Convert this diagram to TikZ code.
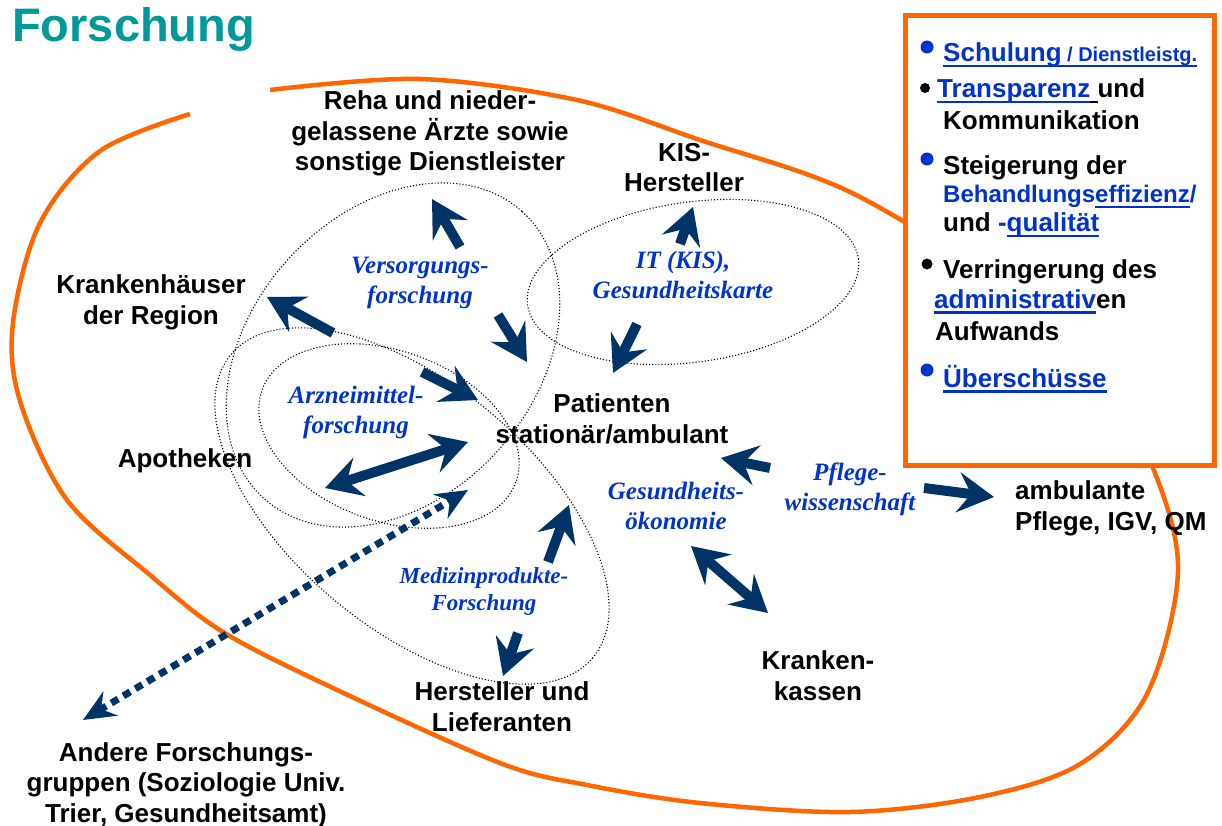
\documentclass[tikz,border=0pt]{standalone}
\usepackage{fontspec}
\setmainfont{Liberation Sans}
\newfontfamily\timesbi{Liberation Serif}
\usepackage{tkz-base}
\usepackage{tkz-euclide}
\usetikzlibrary{arrows.meta}

\definecolor{orng}{RGB}{255,102,0}
\definecolor{navy}{RGB}{0,51,102}
\definecolor{itblue}{RGB}{0,51,204}
\definecolor{tuerkis}{RGB}{0,153,153}

% Unterstrichener Text (Links im Kasten).
\newcommand{\ulk}[1]{\sbox0{#1}\rlap{\rule[-5.5pt]{\wd0}{2.5pt}}\usebox0}

\tikzset{
  etikett/.style={font=\fontsize{26}{30.5}\selectfont\bfseries, align=center, inner sep=0pt, anchor=base},
  forschung/.style={font=\timesbi\bfseries\itshape\fontsize{25}{30}\selectfont, text=itblue, align=center, inner sep=0pt, anchor=base},
  pfeil/.style={draw=navy, line width=10pt, -{Stealth[length=36pt,width=40pt,inset=13pt]}},
  doppelpfeil/.style={draw=navy, line width=10pt, {Stealth[length=36pt,width=40pt,inset=13pt]}-{Stealth[length=36pt,width=40pt,inset=13pt]}},
  punktpfeil/.style={draw=navy, line width=7pt, dash pattern=on 8pt off 6pt, {Stealth[length=32pt,width=28pt,inset=11pt]}-{Stealth[length=32pt,width=28pt,inset=11pt]}},
  kastentext/.style={font=\fontsize{26}{30}\selectfont\bfseries, inner sep=0pt, anchor=base west},
  ellipsenrand/.style={draw=black, line width=1.1pt, dash pattern=on 1.1pt off 2pt}
}

\begin{document}
\begin{tikzpicture}[x=1pt,y=-1pt]
        \useasboundingbox (0,0) rectangle (1222,826);

        % Define los extremos de las flechas.
        \tkzDefPoint(460,247){Ra}  \tkzDefPoint(432,199){Rb}
        \tkzDefPoint(333,333){Ka}  \tkzDefPoint(267,297){Kb}
        \tkzDefPoint(498,315){Pa}  \tkzDefPoint(527,362){Pb}
        \tkzDefPoint(422,372){Aa}  \tkzDefPoint(478,400){Ab}
        \tkzDefPoint(325,488){Da}  \tkzDefPoint(468,442){Db}
        \tkzDefPoint(83,720){Qa}   \tkzDefPoint(468,490){Qb}
        \tkzDefPoint(680,244){Ia}  \tkzDefPoint(693,207){Ib}
        \tkzDefPoint(637,324){Ja}  \tkzDefPoint(613,373){Jb}
        \tkzDefPoint(548,562){Ma}  \tkzDefPoint(569,505){Mb}
        \tkzDefPoint(518,633){Na}  \tkzDefPoint(503,676){Nb}
        \tkzDefPoint(770,468){Ga}  \tkzDefPoint(721,458){Gb}
        \tkzDefPoint(924,488){Ha}  \tkzDefPoint(994,497){Hb}
        \tkzDefPoint(691,546){Ea}  \tkzDefPoint(768,613){Eb}

        % Dibuja la curva naranja.
        \draw[orng, line width=4.5pt] plot[smooth, tension=0.55] coordinates {
          (270,90) (420,79) (577,100) (700,140) (850,192) (1000,285) (1100,375)
          (1153,468) (1178,571) (1147,694) (1080,764) (980,797) (850,812) (700,803)
          (587,785) (500,763) (333,688) (223,632) (150,575) (67,500) (20,401)
          (13,323) (40,223) (100,151) (190,114)};

        % Dibuja el cuadro de objetivos.
        \draw[orng, line width=5pt, fill=white] (905,16) rectangle (1214,465);
        \fill[itblue] (927,47) circle (6.5);
        \fill[black] (925,88) circle (5);
        \fill[itblue] (927,159) circle (6.5);
        \fill[black] (927,264) circle (5.5);
        \fill[itblue] (927,370) circle (6.5);
        \node[kastentext, text=itblue] (z1) at (943,62) {\ulk{Schulung\fontsize{20}{24}\selectfont\ / Dienstleistg.}};
        \node[kastentext] (z2) at (937,98) {{\color{itblue}\ulk{Transparenz}}\ulk{\ }und};
        \node[kastentext] (z3) at (943,130) {Kommunikation};
        \node[kastentext] (z4) at (943,175) {Steigerung der};
        \node[kastentext, text=itblue] (z5) at (943,203) {\fontsize{24}{28}\selectfont Behandlungs\ulk{effizienz}/};
        \node[kastentext] (z6) at (943,232) {und {\color{itblue}-\ulk{qualität}}};
        \node[kastentext] (z7) at (943,278) {Verringerung des};
        \node[kastentext] (z8) at (934,308) {{\color{itblue}\ulk{administrativ}}en};
        \node[kastentext] (z9) at (935,340) {Aufwands};
        \node[kastentext, text=itblue] (z10) at (943,387) {\ulk{Überschüsse}};

        % Dibuja las elipses punteadas.
        \draw[ellipsenrand, rotate around={48:(393,355)}] (393,355) ellipse [x radius=193, y radius=142];
        \draw[ellipsenrand, rotate around={8:(693,282)}] (693,282) ellipse [x radius=167, y radius=80];
        \draw[ellipsenrand, rotate around={-20:(389,436)}] (389,436) ellipse [x radius=135, y radius=85];
        \draw[ellipsenrand, rotate around={-40:(412,506)}] (412,506) ellipse [x radius=236, y radius=122];

        % Dibuja las flechas.
        \draw[pfeil] (Ra) -- (Rb);
        \draw[pfeil] (Ka) -- (Kb);
        \draw[pfeil] (Pa) -- (Pb);
        \draw[pfeil] (Aa) -- (Ab);
        \draw[doppelpfeil] (Da) -- (Db);
        \draw[punktpfeil] (Qa) -- (Qb);
        \draw[pfeil] (Ia) -- (Ib);
        \draw[pfeil] (Ja) -- (Jb);
        \draw[pfeil] (Ma) -- (Mb);
        \draw[pfeil] (Na) -- (Nb);
        \draw[pfeil] (Ga) -- (Gb);
        \draw[pfeil] (Ha) -- (Hb);
        \draw[doppelpfeil] (Ea) -- (Eb);

        % Etiqueta los actores (la base es la última línea).
        \node[font=\fontsize{47}{50}\selectfont\bfseries, text=tuerkis, inner sep=0pt, anchor=base west] (titel) at (12,42) {Forschung};
        \node[etikett] (reha) at (430,171) {Reha und nieder-\\gelassene Ärzte sowie\\sonstige Dienstleister};
        \node[etikett] (kis) at (684,192) {KIS-\\Hersteller};
        \node[etikett] (khs) at (151,324) {Krankenhäuser\\der Region};
        \node[etikett] (apo) at (185,467) {Apotheken};
        \node[etikett] (pat) at (612,443) {Patienten\\stationär/ambulant};
        \node[etikett, align=left, anchor=base west] (amb) at (1015,530) {ambulante\\Pflege, IGV, QM};
        \node[etikett] (kk) at (818,700) {Kranken-\\kassen};
        \node[etikett] (herst) at (502,731) {Hersteller und\\Lieferanten};
        \node[etikett] (andere) at (186,822) {Andere Forschungs-\\gruppen (Soziologie Univ.\\Trier, Gesundheitsamt)};

        % Etiqueta los campos de investigación.
        \node[forschung] (vf) at (420,303) {Versorgungs-\\forschung};
        \node[forschung] (am) at (356,433) {Arzneimittel-\\forschung};
        \node[forschung] (it) at (683,298) {IT (KIS),\\Gesundheitskarte};
        \node[forschung] (oek) at (676,529) {Gesundheits-\\ökonomie};
        \node[forschung] (pfl) at (850,510) {Pflege-\\wissenschaft};
        \node[forschung, font=\timesbi\bfseries\itshape\fontsize{23}{27}\selectfont] (mp) at (484,610) {Medizinprodukte-\\Forschung};
    \end{tikzpicture}
\end{document}
